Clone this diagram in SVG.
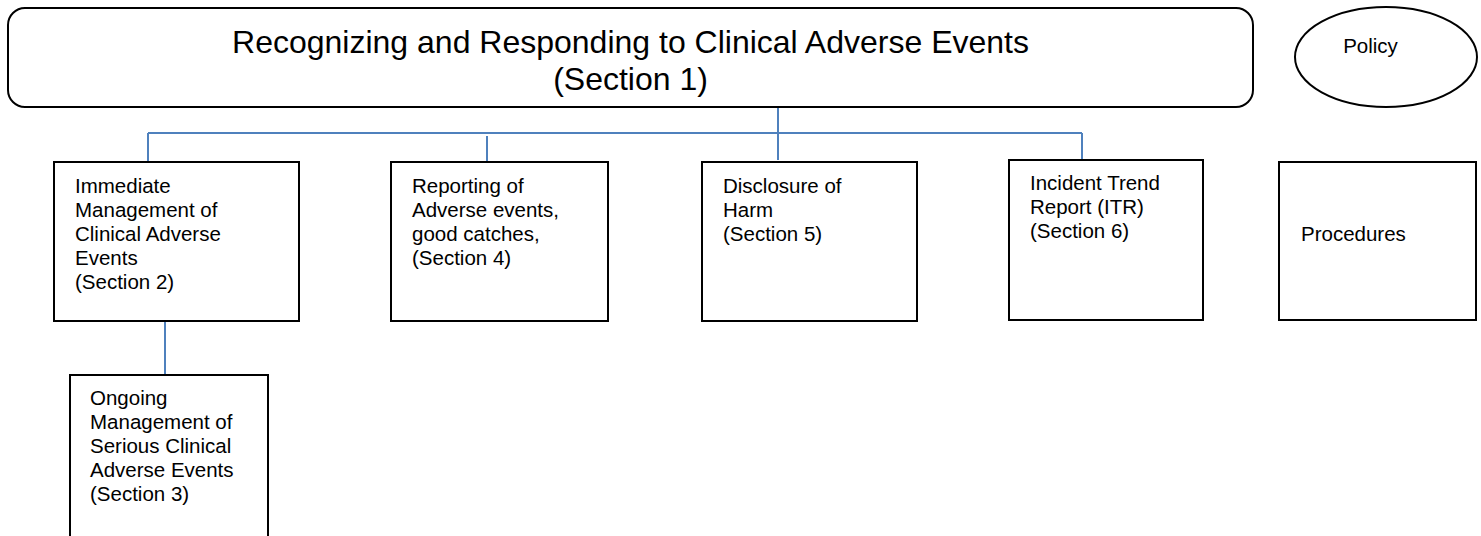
<svg xmlns="http://www.w3.org/2000/svg" width="1481" height="536" viewBox="0 0 1481 536">
<style>
.box{fill:#fff;stroke:#000;stroke-width:2}
.t{font-family:"Liberation Sans",Arial,sans-serif;font-size:20.5px;fill:#000}
.title{font-family:"Liberation Sans",Arial,sans-serif;font-size:32px;fill:#000}
.conn{stroke:#4F81BD;stroke-width:2;fill:none}
</style>
<rect width="1481" height="536" fill="#fff"/>
<g id="connectors">
<line class="conn" x1="148" y1="133" x2="1082" y2="133"/>
<line class="conn" x1="778" y1="107" x2="778" y2="160"/>
<line class="conn" x1="148" y1="133" x2="148" y2="162"/>
<line class="conn" x1="487" y1="136" x2="487" y2="162"/>
<line class="conn" x1="1082" y1="133" x2="1082" y2="160"/>
<line class="conn" x1="165" y1="321" x2="165" y2="382"/>
</g>
<g id="section1">
<rect class="box" x="8" y="8" width="1245" height="99" rx="17"/>
<text class="title" x="630.5" y="53" text-anchor="middle">Recognizing and Responding to Clinical Adverse Events</text>
<text class="title" x="630.5" y="90" text-anchor="middle">(Section 1)</text>
</g>
<g id="policy">
<ellipse class="box" cx="1386" cy="57" rx="91" ry="50"/>
<text class="t" x="1370.5" y="53" text-anchor="middle">Policy</text>
</g>
<g id="section2">
<rect class="box" x="54" y="162" width="245" height="159"/>
<text class="t" x="75" y="193">Immediate<tspan x="75" dy="24">Management of</tspan><tspan x="75" dy="24">Clinical Adverse</tspan><tspan x="75" dy="24">Events</tspan><tspan x="75" dy="24">(Section 2)</tspan></text>
</g>
<g id="section3">
<rect class="box" x="70" y="375" width="198" height="175"/>
<text class="t" x="90" y="405">Ongoing<tspan x="90" dy="24">Management of</tspan><tspan x="90" dy="24">Serious Clinical</tspan><tspan x="90" dy="24">Adverse Events</tspan><tspan x="90" dy="24">(Section 3)</tspan></text>
</g>
<g id="section4">
<rect class="box" x="391" y="162" width="217" height="159"/>
<text class="t" x="412" y="193">Reporting of<tspan x="412" dy="24">Adverse events,</tspan><tspan x="412" dy="24">good catches,</tspan><tspan x="412" dy="24">(Section 4)</tspan></text>
</g>
<g id="section5">
<rect class="box" x="702" y="162" width="215" height="159"/>
<text class="t" x="723" y="193">Disclosure of<tspan x="723" dy="24">Harm</tspan><tspan x="723" dy="24">(Section 5)</tspan></text>
</g>
<g id="section6">
<rect class="box" x="1009" y="160" width="194" height="160"/>
<text class="t" x="1030" y="190">Incident Trend<tspan x="1030" dy="24">Report (ITR)</tspan><tspan x="1030" dy="24">(Section 6)</tspan></text>
</g>
<g id="procedures">
<rect class="box" x="1279" y="162" width="197" height="158"/>
<text class="t" x="1301" y="241">Procedures</text>
</g>
</svg>
